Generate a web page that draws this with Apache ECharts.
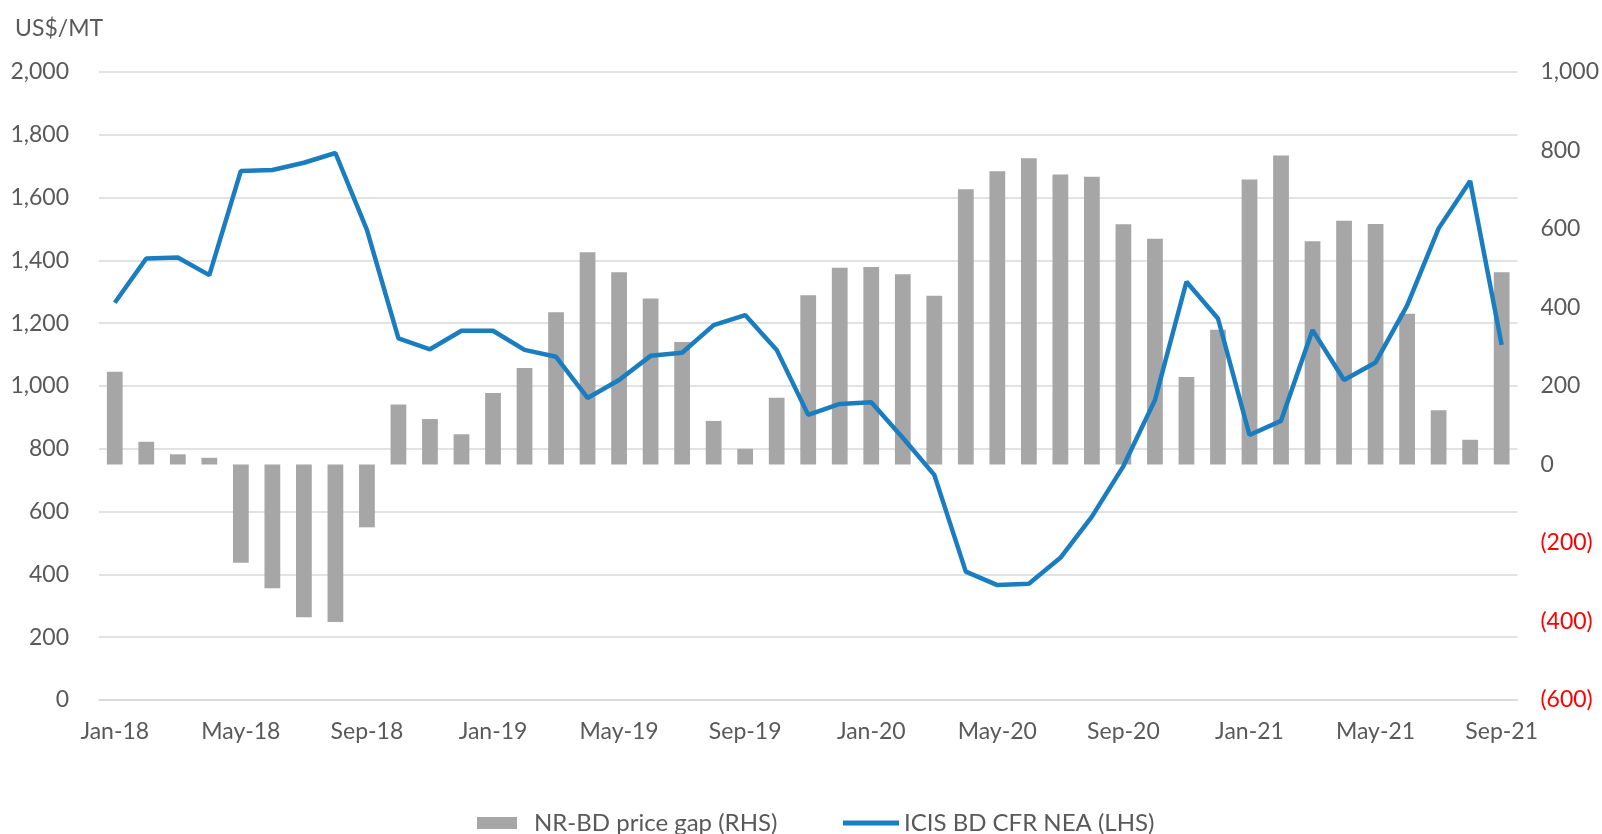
<!DOCTYPE html>
<html>
<head>
<meta charset="utf-8">
<script src="https://cdn.jsdelivr.net/npm/echarts@6/dist/echarts.min.js"></script>
<style>
  html, body { margin: 0; padding: 0; background: #fff; }
  #chart { width: 1602px; height: 834px; }
</style>
</head>
<body>
<div id="chart"></div>
<script>
const months = [
    'Jan-18', 'Feb-18', 'Mar-18', 'Apr-18', 'May-18', 'Jun-18', 'Jul-18', 'Aug-18', 'Sep-18', 'Oct-18', 'Nov-18', 'Dec-18',
    'Jan-19', 'Feb-19', 'Mar-19', 'Apr-19', 'May-19', 'Jun-19', 'Jul-19', 'Aug-19', 'Sep-19', 'Oct-19', 'Nov-19', 'Dec-19',
    'Jan-20', 'Feb-20', 'Mar-20', 'Apr-20', 'May-20', 'Jun-20', 'Jul-20', 'Aug-20', 'Sep-20', 'Oct-20', 'Nov-20', 'Dec-20',
    'Jan-21', 'Feb-21', 'Mar-21', 'Apr-21', 'May-21', 'Jun-21', 'Jul-21', 'Aug-21', 'Sep-21'
];

// NR-BD price gap, right axis
const priceGap = [
    236, 58, 26, 17, -250, -315, -389, -401, -160, 153, 116, 77,
    182, 246, 388, 541, 490, 423, 312, 111, 40, 170, 431, 501,
    503, 485, 430, 701, 747, 780, 739, 733, 612, 575, 223, 343,
    726, 787, 569, 621, 613, 384, 138, 63, 490
];

// ICIS BD CFR NEA, left axis
const bdPrice = [
    1265, 1406, 1409, 1353, 1685, 1688, 1711, 1742, 1497, 1152, 1117, 1176,
    1176, 1115, 1093, 962, 1019, 1096, 1106, 1194, 1226, 1115, 908, 943,
    948, 835, 717, 409, 366, 370, 453, 584, 745, 955, 1332, 1215,
    844, 889, 1178, 1019, 1075, 1256, 1502, 1653, 1131
];

const gapName = 'NR-BD price gap (RHS)';
const bdName = 'ICIS BD CFR NEA (LHS)';

const font = 'Lato, "Open Sans", sans-serif';
const txt = '#595959';
const gridCol = '#d9d9d9';

const chart = echarts.init(document.getElementById('chart'));

chart.setOption({
    animation: false,
    textStyle: { fontFamily: font },
    title: {
        text: 'US$/MT',
        left: 10,
        top: 12,
        textStyle: { fontFamily: font, fontSize: 23, fontWeight: 'normal', color: txt }
    },
    legend: [
        {
            data: [gapName],
            left: 472,
            top: 806,
            icon: 'rect',
            itemWidth: 40,
            itemHeight: 12,
            textStyle: { fontFamily: font, fontSize: 24, color: txt, padding: [0, 0, 0, 12] }
        },
        {
            data: [bdName],
            left: 838,
            top: 806,
            icon: 'rect',
            itemWidth: 56,
            itemHeight: 5,
            textStyle: { fontFamily: font, fontSize: 24, color: txt, padding: [0, 0, 0, 0] }
        }
    ],
    grid: { left: 99, right: 84, top: 72, bottom: 134, containLabel: false },
    xAxis: {
        type: 'category',
        data: months,
        boundaryGap: true,
        axisLine: { lineStyle: { color: gridCol, width: 1.5 } },
        axisTick: { interval: 3, length: 6, lineStyle: { color: gridCol, width: 1.5 } },
        axisLabel: { interval: 3, fontFamily: font, fontSize: 23, color: txt, margin: 20 }
    },
    yAxis: [
        {
            type: 'value',
            min: 0,
            max: 2000,
            interval: 200,
            axisLine: { show: false },
            axisTick: { show: false },
            splitLine: { lineStyle: { color: gridCol, width: 1.5 } },
            axisLabel: {
                fontFamily: font, fontSize: 23, color: txt, margin: 30,
                formatter: v => Number(v).toLocaleString('en-US')
            }
        },
        {
            type: 'value',
            min: -600,
            max: 1000,
            interval: 200,
            position: 'right',
            axisLine: { show: false },
            axisTick: { show: false },
            splitLine: { show: false },
            axisLabel: {
                fontFamily: font, fontSize: 23, margin: 23,
                color: v => (Number(v) < 0 ? '#ff0000' : txt),
                formatter: v => (v < 0 ? '(' + Math.abs(v).toLocaleString('en-US') + ')' : Number(v).toLocaleString('en-US'))
            }
        }
    ],
    series: [
        {
            name: gapName,
            type: 'bar',
            yAxisIndex: 1,
            barWidth: '50%',
            data: priceGap,
            itemStyle: { color: '#a6a6a6' }
        },
        {
            name: bdName,
            type: 'line',
            yAxisIndex: 0,
            data: bdPrice,
            symbol: 'none',
            lineStyle: { color: '#1a7dc0', width: 4.5 },
            itemStyle: { color: '#1a7dc0' },
            z: 5
        }
    ]
});
</script>
</body>
</html>
